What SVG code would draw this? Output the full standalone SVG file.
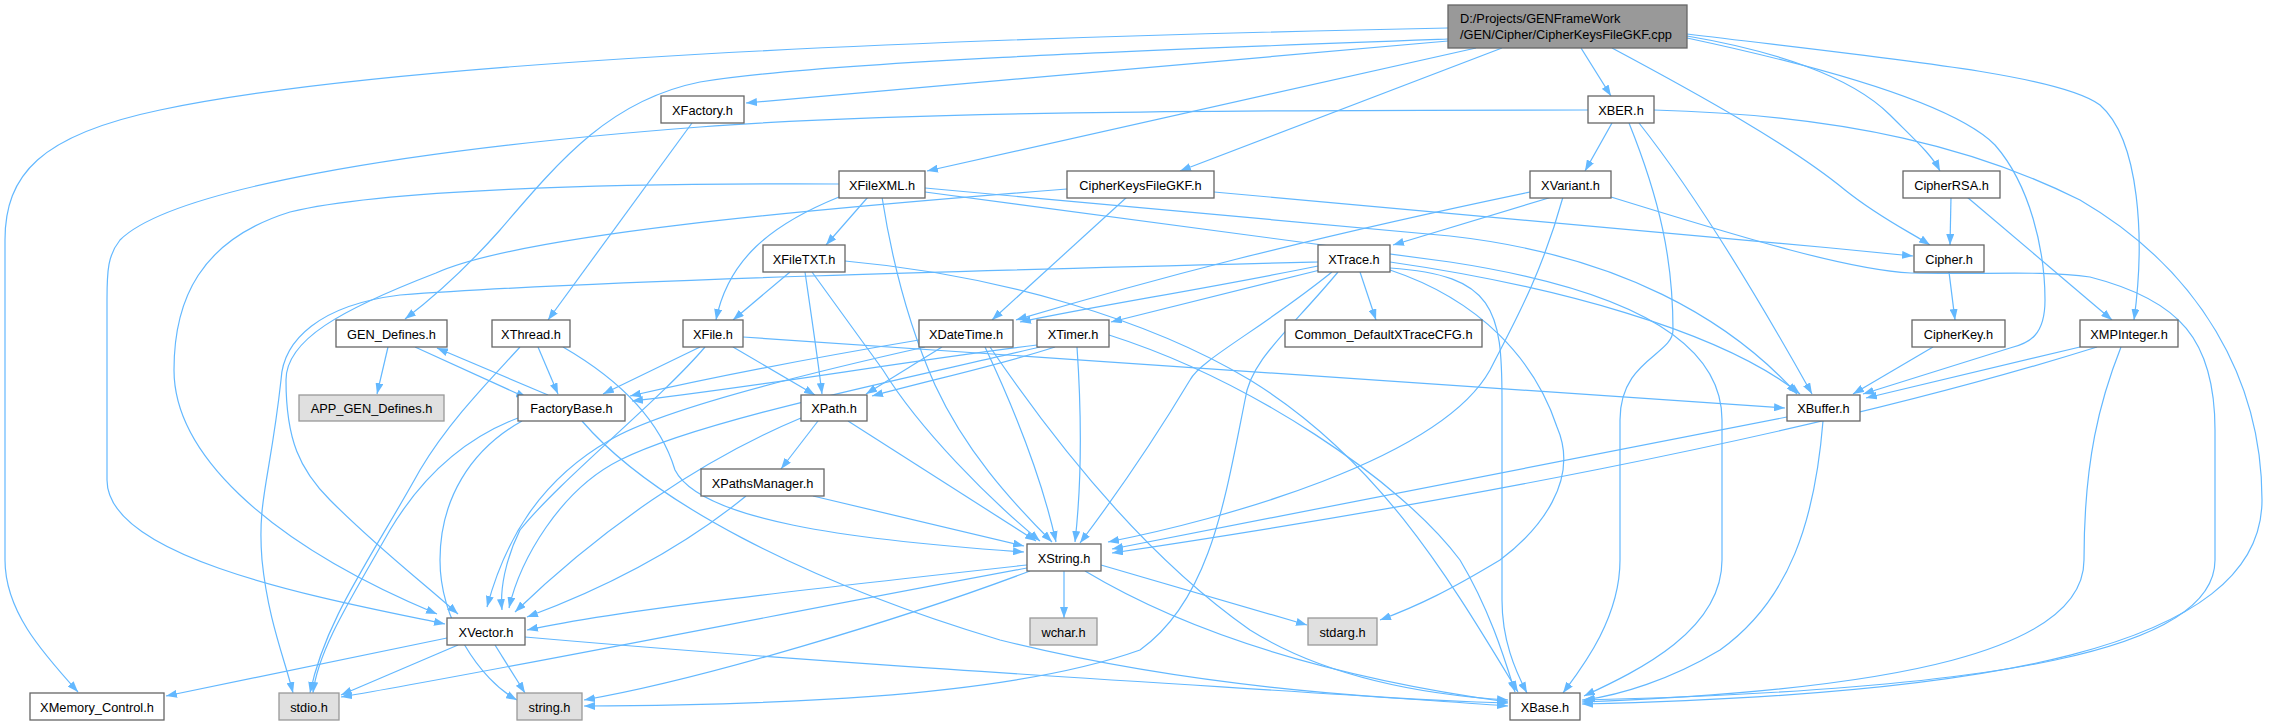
<svg xmlns="http://www.w3.org/2000/svg" width="2272" height="725" viewBox="0 0 2272 725">
<style>
.n rect{fill:#ffffff;stroke:#666666;stroke-width:1.3}
.g rect{fill:#e0e0e0;stroke:#999999;stroke-width:1.3}
.t rect{fill:#999999;stroke:#666666;stroke-width:1.3}
text{font-family:"Liberation Sans",Arial,Helvetica,sans-serif;font-size:12.8px;fill:#000000;text-anchor:middle}
.t text{text-anchor:start}
#edges path{fill:none;stroke:#63b8ff;stroke-width:1.2;marker-end:url(#a)}
</style>
<defs>
<marker id="a" markerUnits="userSpaceOnUse" markerWidth="11" markerHeight="8" refX="11" refY="4" orient="auto">
<path d="M0,0 L11,4 L0,8 z" fill="#63b8ff"/>
</marker>
</defs>
<rect width="2272" height="725" fill="#ffffff"/>
<g id="edges">
<path d="M1448,28 C1050,36 420,55 160,110 C40,135 5,175 5,240 L5,560 C5,610 40,650 78,692"/>
<path d="M1448,39 C1150,50 820,62 700,82 C610,100 560,160 500,230 C460,275 430,300 405,319"/>
<path d="M1448,41 L746,103"/>
<path d="M1476,48 L927,171"/>
<path d="M1502,48 L1180,171"/>
<path d="M1581,48 L1611,96"/>
<path d="M1612,48 C1700,95 1790,145 1845,190 C1880,218 1910,232 1930,245"/>
<path d="M1687,36 C1770,50 1850,75 1890,115 C1915,140 1932,155 1940,171"/>
<path d="M1687,34 C1900,60 2060,75 2100,105 C2140,140 2145,240 2134,320"/>
<path d="M1687,38 C1860,75 1960,110 1995,145 C2030,185 2045,250 2045,300 C2045,335 2030,343 2010,348 L1863,394"/>
<path d="M692,123 L548,320"/>
<path d="M1612,123 L1585,171"/>
<path d="M1588,110 C1200,110 900,112 700,127 C400,150 170,190 120,240 C108,255 107,270 107,300 L107,480 C107,560 330,600 445,624"/>
<path d="M1629,123 C1660,200 1673,260 1673,330 C1673,355 1620,360 1620,420 L1620,560 C1620,620 1580,670 1563,693"/>
<path d="M1639,123 C1700,200 1765,310 1812,394"/>
<path d="M1654,110 C1850,115 1980,150 2080,200 C2200,270 2262,380 2262,500 C2262,650 1980,695 1582,704"/>
<path d="M1552,197 L1393,245"/>
<path d="M1530,192 C1300,240 1150,280 1016,320"/>
<path d="M1563,197 C1540,280 1510,330 1490,370 C1440,460 1220,520 1108,542"/>
<path d="M1611,197 C1750,240 1850,270 1911,273 C1980,275 2040,270 2090,277 C2180,300 2215,340 2215,430 L2215,560 C2215,650 2000,690 1582,700"/>
<path d="M868,197 L826,245"/>
<path d="M839,197 C770,225 728,260 716,320"/>
<path d="M839,184 C600,183 380,190 290,212 C200,240 174,300 174,370 C174,450 260,540 437,614"/>
<path d="M882,197 C895,280 915,340 935,385 C965,450 1010,500 1052,542"/>
<path d="M925,188 L1450,236 C1620,255 1730,320 1797,394"/>
<path d="M925,192 L1450,262 C1600,285 1722,330 1722,420 L1722,560 C1722,630 1640,670 1584,696"/>
<path d="M1127,197 L992,320"/>
<path d="M1214,192 C1500,217 1700,235 1913,256"/>
<path d="M1067,189 C800,210 520,235 436,273 C340,310 286,340 286,380 C286,440 300,470 330,500 C380,550 420,580 458,614"/>
<path d="M1318,262 C1000,270 600,280 400,295 C320,305 283,340 281,380 C270,480 257,500 262,560 C268,620 285,660 293,693"/>
<path d="M790,272 L733,320"/>
<path d="M805,272 C812,320 818,360 822,394"/>
<path d="M812,272 L883,370 C920,430 990,500 1040,541"/>
<path d="M845,261 C1000,275 1150,320 1250,380 C1380,460 1450,580 1518,692"/>
<path d="M1318,266 C1200,290 1100,305 1020,322"/>
<path d="M1320,270 L1111,322"/>
<path d="M1360,272 L1376,320"/>
<path d="M1332,272 C1260,330 1200,360 1190,380 C1160,430 1120,490 1080,543"/>
<path d="M1338,272 C1290,330 1250,360 1245,400 C1225,500 1210,600 1140,650 C1000,700 750,705 584,706"/>
<path d="M1390,262 C1550,285 1720,330 1800,394"/>
<path d="M1390,268 C1495,275 1502,310 1502,400 L1502,600 C1502,640 1515,670 1527,693"/>
<path d="M1390,270 C1480,300 1535,360 1557,427 C1580,480 1540,530 1500,560 C1450,590 1420,605 1380,620"/>
<path d="M919,340 C800,360 700,380 630,396"/>
<path d="M925,347 C800,375 660,410 610,440 C540,480 505,540 487,607"/>
<path d="M942,347 L866,394"/>
<path d="M985,347 C1010,400 1040,470 1056,542"/>
<path d="M990,347 C1060,450 1150,560 1250,630 C1330,680 1430,695 1508,700"/>
<path d="M1037,345 C900,362 750,388 632,401"/>
<path d="M1055,347 C1000,365 930,380 872,396"/>
<path d="M1040,347 C900,380 700,420 620,460 C560,490 520,560 509,608"/>
<path d="M1077,347 C1082,420 1082,480 1075,542"/>
<path d="M1109,335 C1250,380 1400,480 1460,560 C1490,610 1505,660 1515,692"/>
<path d="M700,347 L603,394"/>
<path d="M733,347 L815,395"/>
<path d="M705,347 C660,400 560,480 520,530 C505,560 500,590 502,610"/>
<path d="M743,337 L1785,408"/>
<path d="M538,347 L558,394"/>
<path d="M520,347 C490,380 450,420 420,470 C370,560 325,620 310,693"/>
<path d="M563,347 C620,380 660,420 675,470 C700,520 850,540 1024,552"/>
<path d="M388,347 L377,394"/>
<path d="M415,347 L527,398"/>
<path d="M548,395 L437,348"/>
<path d="M582,421 C650,500 800,580 1000,640 C1200,690 1400,700 1508,703"/>
<path d="M518,418 C460,440 420,480 390,530 C350,600 318,650 313,693"/>
<path d="M522,421 C470,450 440,500 440,560 C440,620 480,680 517,700"/>
<path d="M818,421 L781,469"/>
<path d="M848,421 L1036,541"/>
<path d="M801,418 C700,460 600,530 515,612"/>
<path d="M813,496 L1024,546"/>
<path d="M746,496 C680,550 600,590 527,617"/>
<path d="M1064,571 L1064,618"/>
<path d="M1101,565 L1307,625"/>
<path d="M1027,565 C800,590 620,610 527,630"/>
<path d="M1027,568 C800,610 500,670 341,697"/>
<path d="M1030,571 C900,620 700,680 584,700"/>
<path d="M1085,571 C1200,640 1350,680 1508,702"/>
<path d="M447,638 L166,696"/>
<path d="M458,645 L341,695"/>
<path d="M495,645 L525,693"/>
<path d="M525,637 C900,670 1300,690 1508,706"/>
<path d="M1787,417 L1112,549"/>
<path d="M1823,421 C1815,520 1790,600 1720,650 C1670,680 1620,695 1584,700"/>
<path d="M1951,197 L1950,245"/>
<path d="M1967,197 L2112,320"/>
<path d="M1949,272 L1955,320"/>
<path d="M1933,347 L1853,394"/>
<path d="M2080,347 L1866,398"/>
<path d="M2097,347 C1800,440 1400,510 1112,553"/>
<path d="M2121,347 C2100,400 2084,460 2084,560 C2084,650 1900,690 1582,702"/>
</g>
<g id="n_cpp" class="t"><rect x="1448" y="5" width="239" height="43"/><text x="1460" y="23">D:/Projects/GENFrameWork</text><text x="1460" y="39">/GEN/Cipher/CipherKeysFileGKF.cpp</text></g>
<g id="n_xfactory" class="n"><rect x="661" y="96" width="83" height="27"/><text x="702.5" y="114.5">XFactory.h</text></g>
<g id="n_xber" class="n"><rect x="1588" y="96" width="66" height="27"/><text x="1621" y="114.5">XBER.h</text></g>
<g id="n_xfilexml" class="n"><rect x="839" y="171" width="86" height="27"/><text x="882" y="189.5">XFileXML.h</text></g>
<g id="n_ckfgkf" class="n"><rect x="1067" y="171" width="147" height="27"/><text x="1140.5" y="189.5">CipherKeysFileGKF.h</text></g>
<g id="n_xvariant" class="n"><rect x="1530" y="171" width="81" height="27"/><text x="1570.5" y="189.5">XVariant.h</text></g>
<g id="n_cipherrsa" class="n"><rect x="1903" y="171" width="97" height="27"/><text x="1951.5" y="189.5">CipherRSA.h</text></g>
<g id="n_xfiletxt" class="n"><rect x="763" y="245" width="82" height="27"/><text x="804" y="263.5">XFileTXT.h</text></g>
<g id="n_xtrace" class="n"><rect x="1318" y="245" width="72" height="27"/><text x="1354" y="263.5">XTrace.h</text></g>
<g id="n_cipher" class="n"><rect x="1914" y="245" width="70" height="27"/><text x="1949" y="263.5">Cipher.h</text></g>
<g id="n_gendefines" class="n"><rect x="336" y="320" width="111" height="27"/><text x="391.5" y="338.5">GEN_Defines.h</text></g>
<g id="n_xthread" class="n"><rect x="492" y="320" width="78" height="27"/><text x="531" y="338.5">XThread.h</text></g>
<g id="n_xfile" class="n"><rect x="683" y="320" width="60" height="27"/><text x="713" y="338.5">XFile.h</text></g>
<g id="n_xdatetime" class="n"><rect x="919" y="320" width="94" height="27"/><text x="966" y="338.5">XDateTime.h</text></g>
<g id="n_xtimer" class="n"><rect x="1037" y="320" width="72" height="27"/><text x="1073" y="338.5">XTimer.h</text></g>
<g id="n_common" class="n"><rect x="1285" y="320" width="197" height="27"/><text x="1383.5" y="338.5">Common_DefaultXTraceCFG.h</text></g>
<g id="n_cipherkey" class="n"><rect x="1912" y="320" width="93" height="27"/><text x="1958.5" y="338.5">CipherKey.h</text></g>
<g id="n_xmpinteger" class="n"><rect x="2080" y="320" width="98" height="27"/><text x="2129" y="338.5">XMPInteger.h</text></g>
<g id="n_appgen" class="g"><rect x="299" y="395" width="145" height="26"/><text x="371.5" y="413">APP_GEN_Defines.h</text></g>
<g id="n_factorybase" class="n"><rect x="518" y="395" width="107" height="26"/><text x="571.5" y="413">FactoryBase.h</text></g>
<g id="n_xpath" class="n"><rect x="801" y="395" width="66" height="26"/><text x="834" y="413">XPath.h</text></g>
<g id="n_xbuffer" class="n"><rect x="1787" y="395" width="73" height="26"/><text x="1823.5" y="413">XBuffer.h</text></g>
<g id="n_xpathsmanager" class="n"><rect x="701" y="469" width="123" height="27"/><text x="762.5" y="487.5">XPathsManager.h</text></g>
<g id="n_xstring" class="n"><rect x="1027" y="544" width="74" height="27"/><text x="1064" y="562.5">XString.h</text></g>
<g id="n_xvector" class="n"><rect x="447" y="618" width="78" height="27"/><text x="486" y="636.5">XVector.h</text></g>
<g id="n_wchar" class="g"><rect x="1030" y="618" width="67" height="27"/><text x="1063.5" y="636.5">wchar.h</text></g>
<g id="n_stdarg" class="g"><rect x="1308" y="618" width="69" height="27"/><text x="1342.5" y="636.5">stdarg.h</text></g>
<g id="n_xmemory" class="n"><rect x="30" y="693" width="134" height="27"/><text x="97" y="711.5">XMemory_Control.h</text></g>
<g id="n_stdio" class="g"><rect x="279" y="693" width="60" height="27"/><text x="309" y="711.5">stdio.h</text></g>
<g id="n_string" class="g"><rect x="517" y="693" width="65" height="27"/><text x="549.5" y="711.5">string.h</text></g>
<g id="n_xbase" class="n"><rect x="1510" y="693" width="70" height="27"/><text x="1545" y="711.5">XBase.h</text></g>
</svg>
